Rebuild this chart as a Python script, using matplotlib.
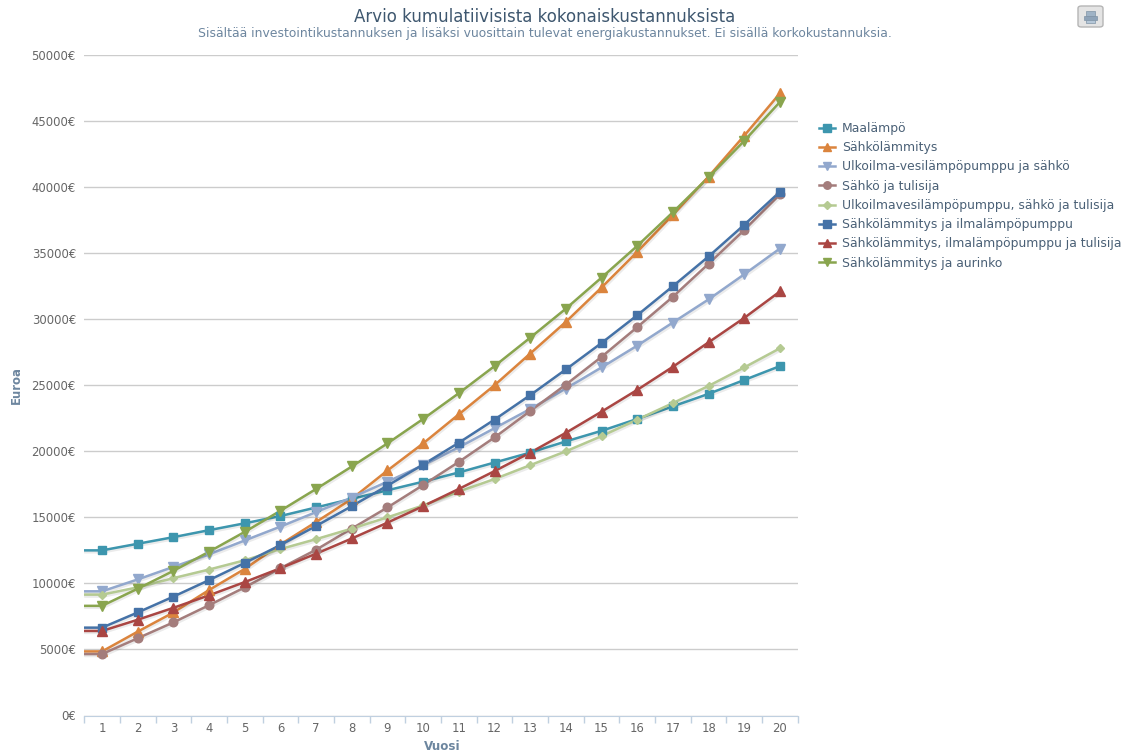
import numpy as np
import matplotlib
matplotlib.use("Agg")
import matplotlib.pyplot as plt
import matplotlib.patheffects as pe
from matplotlib.patches import FancyBboxPatch, Rectangle

W, H = 1127, 756

years = list(range(1, 21))
y_ticks = list(range(0, 50001, 5000))

maalampo = [12500, 13000, 13500, 14030, 14550, 15100, 15750, 16400, 17050, 17700,
            18400, 19150, 19900, 20750, 21550, 22450, 23400, 24350, 25400, 26450]
sahko = [4850, 6350, 7800, 9500, 11100, 12950, 14650, 16400, 18550, 20600,
         22800, 25000, 27400, 29800, 32400, 35100, 37900, 40800, 43900, 47100]
ulkoilma = [9400, 10300, 11250, 12200, 13250, 14300, 15400, 16500, 17700, 18950,
            20300, 21750, 23200, 24750, 26350, 28000, 29750, 31500, 33400, 35350]
sahko_tuli = [4650, 5850, 7050, 8350, 9700, 11150, 12550, 14150, 15750, 17450,
              19200, 21050, 23050, 25050, 27150, 29400, 31700, 34200, 36750, 39450]
ulko_tuli = [9150, 9700, 10400, 11050, 11750, 12600, 13350, 14150, 15000, 15900,
             16950, 17900, 18950, 20000, 21150, 22400, 23650, 24950, 26350, 27800]
sahko_ilma = [6650, 7800, 9000, 10250, 11550, 12900, 14350, 15850, 17400, 19000,
              20650, 22400, 24250, 26200, 28200, 30300, 32500, 34750, 37150, 39650]
sahko_ilma_tuli = [6400, 7250, 8150, 9100, 10100, 11150, 12250, 13400, 14600, 15850,
                   17150, 18500, 19900, 21400, 23000, 24650, 26400, 28250, 30100, 32100]
aurinko = [8300, 9600, 10950, 12400, 13900, 15500, 17150, 18850, 20600, 22450,
           24400, 26450, 28600, 30800, 33150, 35550, 38100, 40750, 43500, 46450]

series = [
    ("Maalämpö", maalampo, "#3d96ae", "s", 6.4),
    ("Sähkölämmitys", sahko, "#db843d", "^", 6.5),
    ("Ulkoilma-vesilämpöpumppu ja sähkö", ulkoilma, "#92a8cd", "v", 6.5),
    ("Sähkö ja tulisija", sahko_tuli, "#a47d7c", "o", 6.2),
    ("Ulkoilmavesilämpöpumppu, sähkö ja tulisija", ulko_tuli, "#b5ca92", "D", 4.5),
    ("Sähkölämmitys ja ilmalämpöpumppu", sahko_ilma, "#4572a7", "s", 6.4),
    ("Sähkölämmitys, ilmalämpöpumppu ja tulisija", sahko_ilma_tuli, "#aa4643", "^", 6.5),
    ("Sähkölämmitys ja aurinko", aurinko, "#89a54e", "v", 6.5),
]

fig = plt.figure(figsize=(W / 100, H / 100), dpi=100)
left, right, top, bottom = 84.2, 797.8, 55, 715.5
ax = fig.add_axes([left / W, 1 - bottom / H, (right - left) / W, (bottom - top) / H])

# lines run flat from the plot edge to the first point
x_line = [0.5] + years
shadow = [pe.SimpleLineShadow(offset=(0.6, -0.8), shadow_color="#000000", alpha=0.08, linewidth=3), pe.Normal()]
for name, vals, col, mk, ms in series:
    ax.plot(x_line, [vals[0]] + vals, color=col, lw=1.8, label=name, zorder=3,
            path_effects=shadow, solid_capstyle="round")
    ax.plot(years, vals, ls="none", marker=mk, ms=ms, color=col, mec=col, zorder=4)

ax.set_xlim(0.5, 20.5)
ax.set_ylim(0, 50000)
ax.set_yticks(y_ticks)
ax.set_yticklabels([f"{v}€" for v in y_ticks], fontsize=8.4, color="#666666")
ax.set_xticks(years)
ax.set_xticklabels(years, fontsize=8.4, color="#666666")
ax.set_xticks(np.arange(0.5, 21), minor=True)
ax.tick_params(axis="y", length=0, pad=6)
ax.tick_params(axis="x", which="major", length=0, pad=4.5)
ax.tick_params(axis="x", which="minor", length=5, color="#c0d0e0", width=1)
ax.grid(axis="y", color="#cccccc", lw=1)
ax.set_axisbelow(True)
for s in ["top", "right", "left"]:
    ax.spines[s].set_visible(False)
ax.spines["bottom"].set_color("#c0d0e0")

fig.text(545 / W, 1 - 17 / H, "Arvio kumulatiivisista kokonaiskustannuksista",
         ha="center", va="center", fontsize=11.95, color="#3e576f")
fig.text(545 / W, 1 - 33.5 / H,
         "Sisältää investointikustannuksen ja lisäksi vuosittain tulevat energiakustannukset. Ei sisällä korkokustannuksia.",
         ha="center", va="center", fontsize=8.88, color="#6d869f")
fig.text(16 / W, 1 - 385 / H, "Euroa", rotation=90, ha="center", va="center",
         fontsize=8.4, fontweight="bold", color="#6d869f")
fig.text(442 / W, 1 - 746 / H, "Vuosi", ha="center", va="center",
         fontsize=8.6, fontweight="bold", color="#6d869f")

# legend
handles = []
for name, vals, col, mk, ms in series:
    h, = plt.plot([], [], color=col, lw=1.8, marker=mk, ms=ms - 0.8, label=name)
    handles.append(h)
leg = fig.legend(handles=handles, loc="upper left", bbox_to_anchor=(819 / W, 1 - 122 / H),
                 frameon=False, fontsize=8.9, labelcolor="#4a6076", handlelength=1.3,
                 handletextpad=0.55, labelspacing=0.505, borderpad=0, borderaxespad=0)

# print button in the corner
btn = FancyBboxPatch((1078 / W, 1 - 27 / H), 25 / W, 21 / H, transform=fig.transFigure,
                     boxstyle="round,pad=0,rounding_size=0.003", fc="#e4e4e4", ec="#b5b5b5", lw=1)
fig.add_artist(btn)
for bx, by, bw, bh, c in [(1086, 11, 9, 5, "#9fb3c6"), (1084, 16, 13, 4, "#8ea3b8"), (1086, 20, 9, 3, "#b5c7d8")]:
    fig.add_artist(Rectangle((bx / W, 1 - (by + bh) / H), bw / W, bh / H, transform=fig.transFigure,
                             fc=c, ec="#7f93a6", lw=0.5))

fig.savefig("out.png", dpi=100)
